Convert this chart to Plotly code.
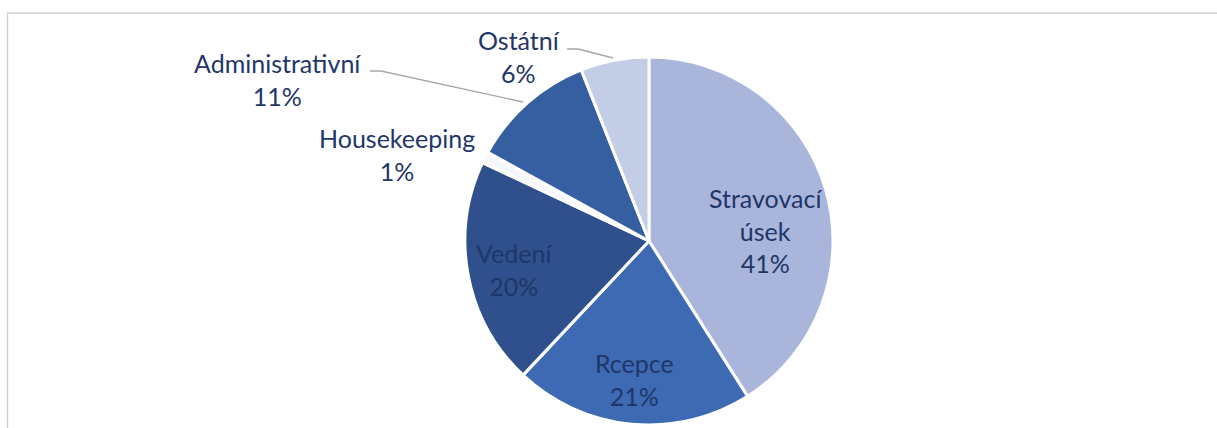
import plotly.graph_objects as go

# Department shares (percent), drawn clockwise from 12 o'clock
labels = ["Stravovací úsek", "Rcepce", "Vedení", "Housekeeping", "Administrativní", "Ostátní"]
values = [41, 21, 20, 1, 11, 6]
colors = ["#A9B5DA", "#3E6AB4", "#2F508C", "#F6F7FB", "#365FA2", "#C3CDE6"]

# Text shown for each slice (line breaks as in the label layout)
label_text = ["Stravovací<br>úsek", "Rcepce", "Vedení", "Housekeeping", "Administrativní", "Ostátní"]

W, H = 1217, 428
CX, CY, R = 649, 241, 184

TEXT_COLOR = "#1F3668"
FONT = "Lato"
FSIZE = 25

fig = go.Figure()
fig.add_trace(go.Pie(
    labels=labels,
    values=values,
    sort=False,
    direction="clockwise",
    rotation=0,
    marker=dict(colors=colors, line=dict(color="white", width=3)),
    textinfo="none",
    hoverinfo="label+percent",
    showlegend=False,
    domain=dict(x=[(CX - R) / W, (CX + R) / W],
                y=[(H - CY - R) / H, (H - CY + R) / H]),
))

# Label anchor points in pixels (centre of each text block)
label_pos = {
    "Stravovací úsek": (765, 230),
    "Rcepce": (634, 379),
    "Vedení": (514, 269),
    "Housekeeping": (397, 154),
    "Administrativní": (277, 79),
    "Ostátní": (519, 57),
}

total = sum(values)
for name, txt, v in zip(labels, label_text, values):
    px, py = label_pos[name]
    fig.add_annotation(
        x=px / W, y=1 - py / H, xref="paper", yref="paper",
        text=f"{txt}<br>{round(100 * v / total)}%",
        showarrow=False, xanchor="center", yanchor="middle", align="center",
        font=dict(family=FONT, size=FSIZE, color=TEXT_COLOR),
    )


def px_path(points):
    parts = []
    for i, (x, y) in enumerate(points):
        parts.append(("M" if i == 0 else "L") + f" {x / W} {1 - y / H}")
    return " ".join(parts)


shapes = [
    # leader lines for the outside labels
    dict(type="path", xref="paper", yref="paper",
         path=px_path([(370, 71), (381, 71), (523, 102)]),
         line=dict(color="#A6A6A6", width=1.3)),
    dict(type="path", xref="paper", yref="paper",
         path=px_path([(567, 49), (578, 49), (613, 58)]),
         line=dict(color="#A6A6A6", width=1.3)),
    # chart area frame (top and left edges)
    dict(type="line", xref="paper", yref="paper",
         x0=7 / W, x1=1.0, y0=1 - 13 / H, y1=1 - 13 / H,
         line=dict(color="#D0D0D0", width=1.4)),
    dict(type="line", xref="paper", yref="paper",
         x0=7.5 / W, x1=7.5 / W, y0=1 - 13 / H, y1=0,
         line=dict(color="#D0D0D0", width=1.4)),
]

fig.update_layout(
    width=W, height=H,
    margin=dict(l=0, r=0, t=0, b=0),
    paper_bgcolor="white",
    plot_bgcolor="white",
    shapes=shapes,
)

fig.write_html("out.html", include_plotlyjs=True, config={"displayModeBar": False})
